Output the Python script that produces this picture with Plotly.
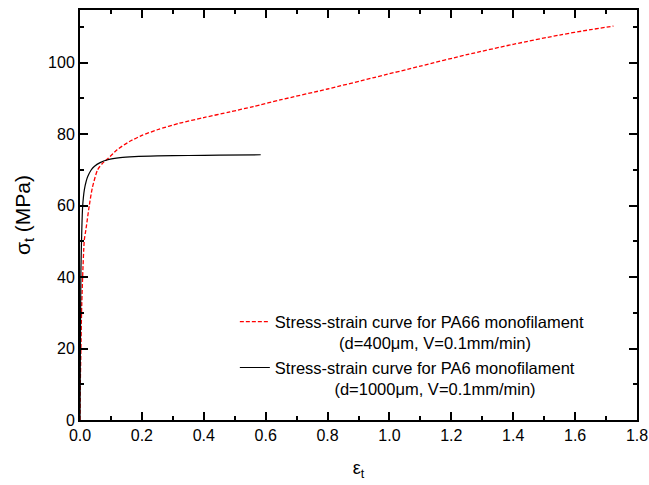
import plotly.graph_objects as go

# PA66 monofilament (red dashed)
pa66_strain = [0, 0.001, 0.003, 0.005, 0.0085, 0.014, 0.019, 0.03, 0.04, 0.057, 0.075, 0.09,
               0.12, 0.16, 0.2, 0.25, 0.32, 0.4, 0.485, 0.56, 0.65, 0.8, 0.95, 1.1, 1.25,
               1.4, 1.55, 1.65, 1.724]
pa66_stress = [0, 10, 20, 30, 40, 50.4, 53.2, 60, 65, 70, 72, 73.1,
               75.6, 77.9, 79.6, 81.2, 83.0, 84.6, 86.2, 87.7, 89.6, 92.6, 95.8, 99.0, 102.2,
               105.1, 107.7, 109.2, 110.2]

# PA6 monofilament (black solid)
pa6_strain = [0, 0.001, 0.002, 0.003, 0.005, 0.0085, 0.014, 0.02, 0.025, 0.035, 0.046, 0.065,
              0.09, 0.13, 0.176, 0.25, 0.35, 0.45, 0.584]
pa6_stress = [0, 15, 30, 42, 50.4, 59.7, 64.4, 66.8, 68.1, 69.8, 70.9, 72.0,
              72.8, 73.4, 73.7, 73.9, 74.0, 74.1, 74.2]

pa66_name = ("Stress-strain curve for PA66 monofilament<br>"
             + "\u00a0" * 14 + "(d=400μm, V=0.1mm/min)")
pa6_name = ("Stress-strain curve for PA6 monofilament<br>"
            + "\u00a0" * 13 + "(d=1000μm, V=0.1mm/min)")

x_ticks = [0.0, 0.2, 0.4, 0.6, 0.8, 1.0, 1.2, 1.4, 1.6, 1.8]
y_ticks = [0, 20, 40, 60, 80, 100]

fig = go.Figure()
fig.add_trace(go.Scatter(x=pa66_strain, y=pa66_stress, mode="lines", name=pa66_name,
                         line=dict(color="#ff0000", width=1.3, dash="4px,2px",
                                   shape="spline", smoothing=0.7)))
fig.add_trace(go.Scatter(x=pa6_strain, y=pa6_stress, mode="lines", name=pa6_name,
                         line=dict(color="black", width=1.2, shape="spline", smoothing=0.7)))

axis_common = dict(
    showline=True, linecolor="black", linewidth=2, mirror="ticks",
    ticks="inside", ticklen=8, tickwidth=1.5, tickcolor="black",
    showgrid=False, zeroline=False,
    tickfont=dict(family="Liberation Sans, Arial", size=16, color="black"),
)

fig.update_xaxes(
    range=[0, 1.8], tickvals=x_ticks, ticktext=[f"{v:.1f}" for v in x_ticks],
    minor=dict(ticks="inside", ticklen=4, tickwidth=1.5, tickcolor="black", dtick=0.1, tick0=0),
    title=dict(text="ε<sub>t</sub>", font=dict(family="Liberation Sans, Arial", size=18, color="black"),
               standoff=18),
    **axis_common,
)
fig.update_yaxes(
    range=[0, 114.7], tickvals=y_ticks, ticktext=[str(v) for v in y_ticks],
    minor=dict(ticks="inside", ticklen=4, tickwidth=1.5, tickcolor="black", dtick=10, tick0=0),
    title=dict(text="σ<sub>t</sub> (MPa)", font=dict(family="Liberation Sans, Arial", size=21, color="black"),
               standoff=12),
    **axis_common,
)

fig.update_layout(
    width=649, height=485,
    margin=dict(l=80, r=12, t=10, b=65, autoexpand=False),
    paper_bgcolor="white", plot_bgcolor="white",
    showlegend=True,
    legend=dict(x=0.278, y=0.282, xanchor="left", yanchor="top",
                bgcolor="rgba(0,0,0,0)", valign="top", tracegroupgap=0,
                font=dict(family="Liberation Sans, Arial", size=16.5, color="black")),
)

fig.write_html("out.html")
